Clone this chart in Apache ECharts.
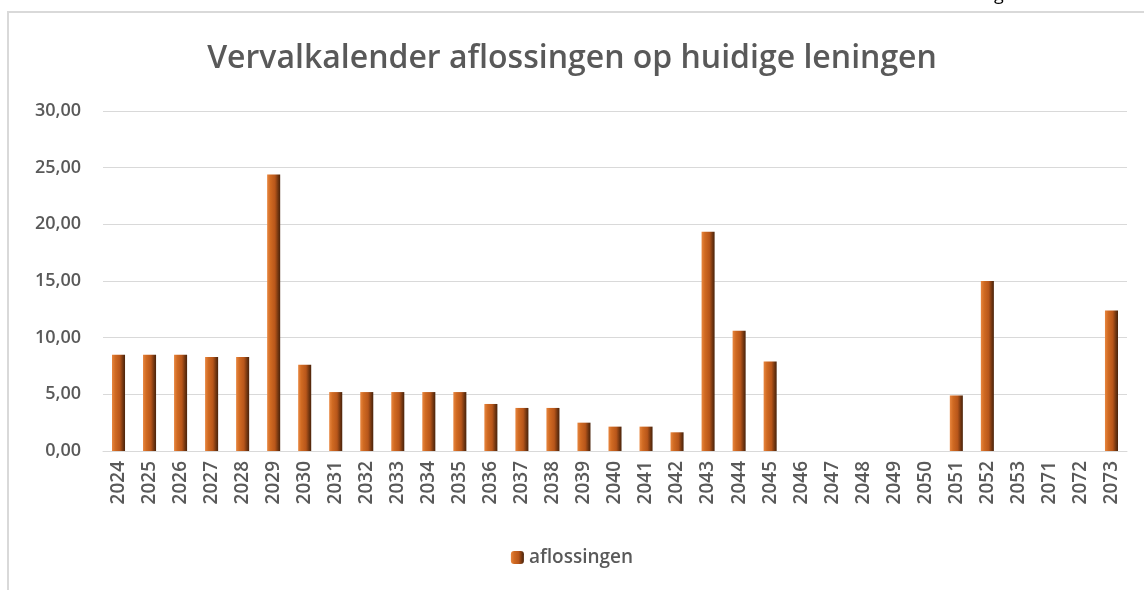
<!DOCTYPE html>
<html>
<head>
<meta charset="utf-8">
<script src="https://cdn.jsdelivr.net/npm/echarts@6/dist/echarts.min.js"></script>
<style>
html,body{margin:0;padding:0;background:#fff;}
#chart{width:1144px;height:590px;}
</style>
</head>
<body>
<div id="chart"></div>
<script>
var titleText = 'Vervalkalender aflossingen op huidige leningen';
var seriesName = 'aflossingen';
var categories = ['2024','2025','2026','2027','2028','2029','2030','2031','2032','2033','2034','2035','2036','2037','2038','2039','2040','2041','2042','2043','2044','2045','2046','2047','2048','2049','2050','2051','2052','2053','2071','2072','2073'];
var values = [8.5,8.5,8.5,8.3,8.3,24.4,7.6,5.2,5.2,5.2,5.2,5.2,4.15,3.8,3.8,2.5,2.15,2.15,1.65,19.35,10.6,7.9,0,0,0,0,0,4.9,15.0,0,0,0,12.4];
var yTicks = {min:0, max:30, interval:5};

var chart = echarts.init(document.getElementById('chart'));
var barColor = new echarts.graphic.LinearGradient(0,0,1,0,[
  {offset:0, color:'#e8863f'},
  {offset:0.25, color:'#d06a22'},
  {offset:0.6, color:'#b8561a'},
  {offset:0.85, color:'#6e3410'},
  {offset:1, color:'#4a230a'}
]);
chart.setOption({
  backgroundColor:'#ffffff',
  animation:false,
  title:{
    text:titleText,
    left:'center',
    top:38,
    textStyle:{fontFamily:'Open Sans',fontSize:32,fontWeight:'600',color:'#595959'}
  },
  legend:{
    data:[seriesName],
    bottom:18,
    left:'center',
    itemWidth:13,
    itemHeight:13,
    itemGap:3,
    textStyle:{fontFamily:'Open Sans',fontSize:19,fontWeight:'600',color:'#595959'}
  },
  grid:{left:103,right:17,top:111,bottom:139,containLabel:false},
  xAxis:{
    type:'category',
    data:categories,
    axisLine:{lineStyle:{color:'#d9d9d9',width:1}},
    axisTick:{show:false},
    axisLabel:{rotate:90,interval:0,margin:10,fontFamily:'Open Sans',fontSize:19,fontWeight:'600',color:'#595959'}
  },
  yAxis:{
    type:'value',
    min:yTicks.min,max:yTicks.max,interval:yTicks.interval,
    axisLine:{show:false},
    axisTick:{show:false},
    splitLine:{lineStyle:{color:'#d9d9d9',width:1}},
    axisLabel:{margin:22,fontFamily:'Open Sans',fontSize:18,fontWeight:'600',color:'#595959',
      formatter:function(v){return v.toFixed(2).replace('.',',');}}
  },
  series:[{
    name:seriesName,
    type:'bar',
    data:values,
    barWidth:'42%',
    itemStyle:{color:barColor}
  }],
  graphic:[
    {type:'rect',shape:{x:8,y:12,width:1200,height:700},style:{fill:'none',stroke:'#d9d9d9',lineWidth:2},silent:true,z:-1},
    {type:'text',left:994,top:-14,style:{text:'g',font:'18px "Open Sans"',fill:'#000'},silent:true}
  ]
});
</script>
</body>
</html>
